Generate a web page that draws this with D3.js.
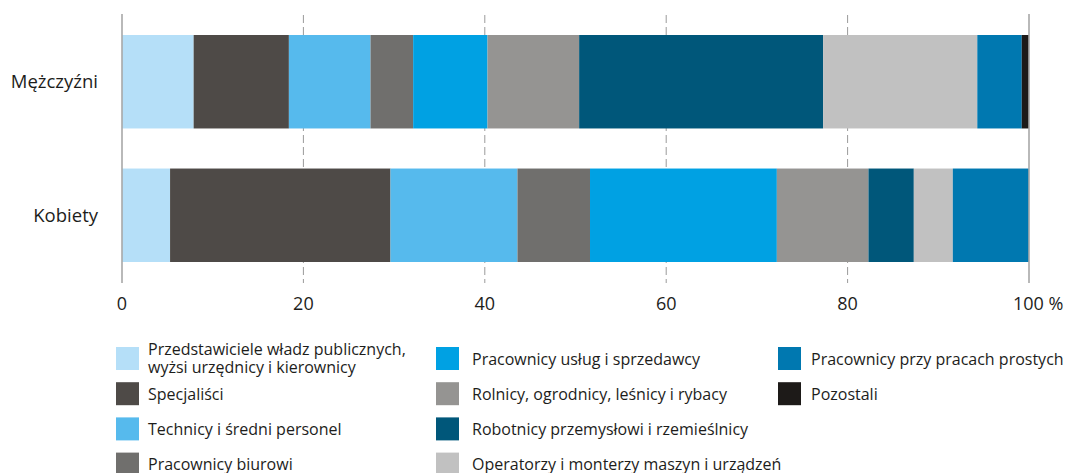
<!DOCTYPE html>
<html>
<head>
<meta charset="utf-8">
<script src="https://cdn.jsdelivr.net/npm/d3@7"></script>
<style>
  body { margin: 0; background: #fff; }
  text { font-family: "Open Sans", "Noto Sans", sans-serif; fill: #1d1d1b; }
</style>
</head>
<body>
<div id="container"></div>
<script>
//Groups (rows of the chart)
var groups = ["Mężczyźni", "Kobiety"];

//Occupation categories, in stacking order
var categories = [
    "Przedstawiciele władz publicznych, wyżsi urzędnicy i kierownicy",
    "Specjaliści",
    "Technicy i średni personel",
    "Pracownicy biurowi",
    "Pracownicy usług i sprzedawcy",
    "Rolnicy, ogrodnicy, leśnicy i rybacy",
    "Robotnicy przemysłowi i rzemieślnicy",
    "Operatorzy i monterzy maszyn i urządzeń",
    "Pracownicy przy pracach prostych",
    "Pozostali"];

//Share of each category, %
var menValues = [7.9, 10.5, 9.0, 4.7, 8.2, 10.1, 26.9, 17.0, 4.9, 0.8];
var womenValues = [5.3, 24.3, 14.0, 8.0, 20.6, 10.1, 5.0, 4.3, 8.4, 0.0];

var tickValues = [0, 20, 40, 60, 80, 100];

var colors = ["#b5dff8", "#4e4a47", "#56baed", "#706f6d", "#00a1e3",
    "#959492", "#00577a", "#c1c1c1", "#0078b0", "#1d1a18"];

//Build rows for d3.stack
var table = groups.map(function (g, gi) {
    var vals = gi === 0 ? menValues : womenValues;
    var row = { group: g };
    categories.forEach(function (c, ci) { row[c] = vals[ci]; });
    return row;
});

var width = 1067, height = 473;

var svg = d3.select("#container").append("svg")
    .attr("width", width)
    .attr("height", height);

var x = d3.scaleLinear().domain([0, 100]).range([122, 1029]);

var y = d3.scaleBand().domain(groups).range([35, 262]).paddingInner(0.3).paddingOuter(0);

//Grid lines
svg.append("g")
    .selectAll("line")
    .data(tickValues.filter(function (d) { return d !== 0 && d !== 100; }))
    .enter().append("line")
    .attr("x1", function (d) { return x(d); })
    .attr("x2", function (d) { return x(d); })
    .attr("y1", 15)
    .attr("y2", 283)
    .attr("stroke", "#9a9a9a")
    .attr("stroke-width", 1)
    .attr("stroke-dasharray", "8,4");

//Bars
var series = d3.stack().keys(categories)(table);

svg.append("g")
    .selectAll("g")
    .data(series)
    .enter().append("g")
    .attr("fill", function (d, i) { return colors[i]; })
    .selectAll("rect")
    .data(function (d) { return d; })
    .enter().append("rect")
    .attr("x", function (d) { return x(d[0]); })
    .attr("y", function (d) { return y(d.data.group); })
    .attr("width", function (d) { return x(d[1]) - x(d[0]); })
    .attr("height", y.bandwidth());

//End lines at 0 and 100
svg.append("g")
    .selectAll("line")
    .data([0, 100])
    .enter().append("line")
    .attr("x1", function (d) { return x(d); })
    .attr("x2", function (d) { return x(d); })
    .attr("y1", 14)
    .attr("y2", 283)
    .attr("stroke", "#a8a8a8")
    .attr("stroke-width", 1.6);

//Tick labels
svg.append("g")
    .selectAll("text")
    .data(tickValues)
    .enter().append("text")
    .attr("x", function (d) { return x(d); })
    .attr("y", 310)
    .attr("text-anchor", function (d) { return d === 100 ? "start" : "middle"; })
    .attr("dx", function (d) { return d === 100 ? -16 : 0; })
    .style("font-size", "18px")
    .text(function (d) { return d === 100 ? "100 %" : d; });

//Group labels
svg.append("g")
    .selectAll("text")
    .data(groups)
    .enter().append("text")
    .attr("x", 98)
    .attr("y", function (d) { return y(d) + y.bandwidth() / 2; })
    .attr("dy", "0.35em")
    .attr("text-anchor", "end")
    .style("font-size", "18.5px")
    .text(function (d) { return d; });

//Legend: columns fill top to bottom
var legendX = [116, 436, 778];
var legend = svg.append("g")
    .selectAll("g")
    .data(categories)
    .enter().append("g")
    .attr("transform", function (d, i) {
        var col = Math.floor(i / 4), row = i % 4;
        return "translate(" + legendX[col] + "," + (347 + row * 35.2) + ")";
    });

legend.append("rect")
    .attr("width", 23)
    .attr("height", 23)
    .attr("fill", function (d, i) { return colors[i]; });

legend.append("text")
    .attr("x", function (d, i) { return i < 4 ? 32 : (i < 8 ? 36 : 33); })
    .attr("y", 12)
    .style("font-size", "16px")
    .each(function (d, i) {
        var t = d3.select(this);
        if (i === 0) {
            t.append("tspan").attr("x", 32).attr("y", 8).text("Przedstawiciele władz publicznych,");
            t.append("tspan").attr("x", 32).attr("y", 26).text("wyżsi urzędnicy i kierownicy");
        } else {
            t.attr("dy", "0.35em").text(d);
        }
    });
</script>
</body>
</html>
